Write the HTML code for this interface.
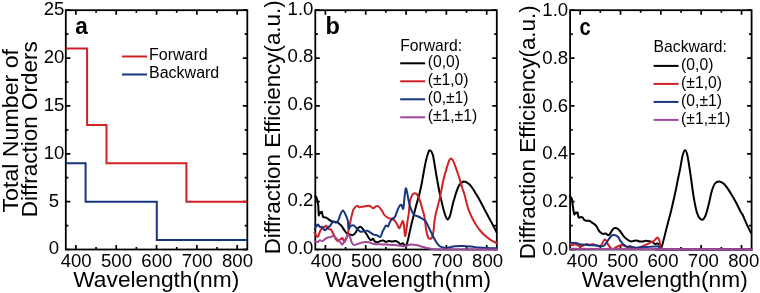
<!DOCTYPE html><html><head><meta charset="utf-8"><style>html,body{margin:0;padding:0;background:#fff;width:760px;height:293px;overflow:hidden}svg{display:block;will-change:transform}text{font-family:"Liberation Sans",sans-serif;fill:#000}</style></head><body>
<svg width="760" height="293" viewBox="0 0 760 293">
<rect x="65.80" y="10.20" width="181.50" height="239.30" fill="none" stroke="#000" stroke-width="1.8"/>
<path d="M75.88 249.50V245.00M75.88 10.20V14.70M96.05 249.50V246.90M96.05 10.20V12.80M116.22 249.50V245.00M116.22 10.20V14.70M136.38 249.50V246.90M136.38 10.20V12.80M156.55 249.50V245.00M156.55 10.20V14.70M176.72 249.50V246.90M176.72 10.20V12.80M196.88 249.50V245.00M196.88 10.20V14.70M217.05 249.50V246.90M217.05 10.20V12.80M237.22 249.50V245.00M237.22 10.20V14.70M65.80 249.50H70.30M247.30 249.50H242.80M65.80 225.57H68.40M247.30 225.57H244.70M65.80 201.64H70.30M247.30 201.64H242.80M65.80 177.71H68.40M247.30 177.71H244.70M65.80 153.78H70.30M247.30 153.78H242.80M65.80 129.85H68.40M247.30 129.85H244.70M65.80 105.92H70.30M247.30 105.92H242.80M65.80 81.99H68.40M247.30 81.99H244.70M65.80 58.06H70.30M247.30 58.06H242.80M65.80 34.13H68.40M247.30 34.13H244.70M65.80 10.20H70.30M247.30 10.20H242.80" stroke="#000" stroke-width="1.7" fill="none"/>
<text x="76.18" y="267.2" font-size="18.6" text-anchor="middle">400</text>
<text x="116.52" y="267.2" font-size="18.6" text-anchor="middle">500</text>
<text x="156.85" y="267.2" font-size="18.6" text-anchor="middle">600</text>
<text x="197.18" y="267.2" font-size="18.6" text-anchor="middle">700</text>
<text x="237.52" y="267.2" font-size="18.6" text-anchor="middle">800</text>
<text x="54.00" y="254.40" font-size="18.6" text-anchor="middle">0</text>
<text x="54.00" y="206.54" font-size="18.6" text-anchor="middle">5</text>
<text x="54.00" y="158.68" font-size="18.6" text-anchor="middle">10</text>
<text x="54.00" y="110.82" font-size="18.6" text-anchor="middle">15</text>
<text x="54.00" y="62.96" font-size="18.6" text-anchor="middle">20</text>
<text x="54.00" y="15.10" font-size="18.6" text-anchor="middle">25</text>
<text x="156.25" y="287.0" font-size="21.8" text-anchor="middle" textLength="166" lengthAdjust="spacingAndGlyphs">Wavelength(nm)</text>
<rect x="315.30" y="10.20" width="181.50" height="239.30" fill="none" stroke="#000" stroke-width="1.8"/>
<path d="M325.38 249.50V245.00M325.38 10.20V14.70M345.55 249.50V246.90M345.55 10.20V12.80M365.72 249.50V245.00M365.72 10.20V14.70M385.88 249.50V246.90M385.88 10.20V12.80M406.05 249.50V245.00M406.05 10.20V14.70M426.22 249.50V246.90M426.22 10.20V12.80M446.38 249.50V245.00M446.38 10.20V14.70M466.55 249.50V246.90M466.55 10.20V12.80M486.72 249.50V245.00M486.72 10.20V14.70M315.30 249.50H319.80M496.80 249.50H492.30M315.30 225.57H317.90M496.80 225.57H494.20M315.30 201.64H319.80M496.80 201.64H492.30M315.30 177.71H317.90M496.80 177.71H494.20M315.30 153.78H319.80M496.80 153.78H492.30M315.30 129.85H317.90M496.80 129.85H494.20M315.30 105.92H319.80M496.80 105.92H492.30M315.30 81.99H317.90M496.80 81.99H494.20M315.30 58.06H319.80M496.80 58.06H492.30M315.30 34.13H317.90M496.80 34.13H494.20M315.30 10.20H319.80M496.80 10.20H492.30" stroke="#000" stroke-width="1.7" fill="none"/>
<text x="326.28" y="267.2" font-size="18.6" text-anchor="middle">400</text>
<text x="366.62" y="267.2" font-size="18.6" text-anchor="middle">500</text>
<text x="406.95" y="267.2" font-size="18.6" text-anchor="middle">600</text>
<text x="447.28" y="267.2" font-size="18.6" text-anchor="middle">700</text>
<text x="487.62" y="267.2" font-size="18.6" text-anchor="middle">800</text>
<text x="300.50" y="253.90" font-size="18.6" text-anchor="middle">0.0</text>
<text x="300.50" y="206.04" font-size="18.6" text-anchor="middle">0.2</text>
<text x="300.50" y="158.18" font-size="18.6" text-anchor="middle">0.4</text>
<text x="300.50" y="110.32" font-size="18.6" text-anchor="middle">0.6</text>
<text x="300.50" y="62.46" font-size="18.6" text-anchor="middle">0.8</text>
<text x="300.50" y="14.60" font-size="18.6" text-anchor="middle">1.0</text>
<text x="408.15" y="287.0" font-size="21.8" text-anchor="middle" textLength="166" lengthAdjust="spacingAndGlyphs">Wavelength(nm)</text>
<rect x="570.10" y="10.20" width="181.50" height="239.30" fill="none" stroke="#000" stroke-width="1.8"/>
<path d="M580.18 249.50V245.00M580.18 10.20V14.70M600.35 249.50V246.90M600.35 10.20V12.80M620.52 249.50V245.00M620.52 10.20V14.70M640.68 249.50V246.90M640.68 10.20V12.80M660.85 249.50V245.00M660.85 10.20V14.70M681.02 249.50V246.90M681.02 10.20V12.80M701.18 249.50V245.00M701.18 10.20V14.70M721.35 249.50V246.90M721.35 10.20V12.80M741.52 249.50V245.00M741.52 10.20V14.70M570.10 249.50H574.60M751.60 249.50H747.10M570.10 225.57H572.70M751.60 225.57H749.00M570.10 201.64H574.60M751.60 201.64H747.10M570.10 177.71H572.70M751.60 177.71H749.00M570.10 153.78H574.60M751.60 153.78H747.10M570.10 129.85H572.70M751.60 129.85H749.00M570.10 105.92H574.60M751.60 105.92H747.10M570.10 81.99H572.70M751.60 81.99H749.00M570.10 58.06H574.60M751.60 58.06H747.10M570.10 34.13H572.70M751.60 34.13H749.00M570.10 10.20H574.60M751.60 10.20H747.10" stroke="#000" stroke-width="1.7" fill="none"/>
<text x="582.38" y="267.2" font-size="18.6" text-anchor="middle">400</text>
<text x="622.72" y="267.2" font-size="18.6" text-anchor="middle">500</text>
<text x="663.05" y="267.2" font-size="18.6" text-anchor="middle">600</text>
<text x="703.38" y="267.2" font-size="18.6" text-anchor="middle">700</text>
<text x="743.72" y="267.2" font-size="18.6" text-anchor="middle">800</text>
<text x="555.30" y="255.10" font-size="18.6" text-anchor="middle">0.0</text>
<text x="555.30" y="207.24" font-size="18.6" text-anchor="middle">0.2</text>
<text x="555.30" y="159.38" font-size="18.6" text-anchor="middle">0.4</text>
<text x="555.30" y="111.52" font-size="18.6" text-anchor="middle">0.6</text>
<text x="555.30" y="63.66" font-size="18.6" text-anchor="middle">0.8</text>
<text x="555.30" y="15.80" font-size="18.6" text-anchor="middle">1.0</text>
<text x="664.75" y="287.0" font-size="21.8" text-anchor="middle" textLength="166" lengthAdjust="spacingAndGlyphs">Wavelength(nm)</text>
<text transform="translate(18.2,212.5) rotate(-90)" font-size="21.8" textLength="163.5" lengthAdjust="spacingAndGlyphs">Total Number of</text>
<text transform="translate(37.4,217.2) rotate(-90)" font-size="21.8" textLength="176" lengthAdjust="spacingAndGlyphs">Diffraction Orders</text>
<text transform="translate(280.4,254.3) rotate(-90)" font-size="21.8" textLength="254" lengthAdjust="spacingAndGlyphs">Diffraction Efficiency(a.u.)</text>
<text transform="translate(535.2,259.3) rotate(-90)" font-size="21.8" textLength="254" lengthAdjust="spacingAndGlyphs">Diffraction Efficiency(a.u.)</text>
<text transform="translate(75.3,34.3) scale(0.94,1)" font-size="24" font-weight="bold">a</text>
<text x="325.6" y="34.3" font-size="23.5" font-weight="bold">b</text>
<text transform="translate(579.4,34.5) scale(0.84,1)" font-size="24" font-weight="bold">c</text>
<path d="M122 56.5H147" stroke="#d02126" stroke-width="2"/><path d="M122 74.5H147" stroke="#16357e" stroke-width="2"/>
<text x="149" y="60.3" font-size="16">Forward</text><text x="149" y="77.8" font-size="16">Backward</text>
<text x="400.20" y="50.70" font-size="15.7">Forward:</text>
<path d="M400.20 63.30h25" stroke="#000" stroke-width="2"/>
<text x="427.70" y="67.10" font-size="15.7">(0,0)</text>
<path d="M400.20 81.30h25" stroke="#d02126" stroke-width="2"/>
<text x="427.70" y="85.10" font-size="15.7">(±1,0)</text>
<path d="M400.20 99.30h25" stroke="#16357e" stroke-width="2"/>
<text x="427.70" y="103.10" font-size="15.7">(0,±1)</text>
<path d="M400.20 117.30h25" stroke="#a0489a" stroke-width="2"/>
<text x="427.70" y="121.10" font-size="15.7">(±1,±1)</text>
<text x="653.60" y="51.50" font-size="15.7">Backward:</text>
<path d="M653.60 65.90h25" stroke="#000" stroke-width="2"/>
<text x="681.10" y="69.70" font-size="15.7">(0,0)</text>
<path d="M653.60 83.90h25" stroke="#d02126" stroke-width="2"/>
<text x="681.10" y="87.70" font-size="15.7">(±1,0)</text>
<path d="M653.60 101.90h25" stroke="#16357e" stroke-width="2"/>
<text x="681.10" y="105.70" font-size="15.7">(0,±1)</text>
<path d="M653.60 119.90h25" stroke="#a0489a" stroke-width="2"/>
<text x="681.10" y="123.70" font-size="15.7">(±1,±1)</text>
<path d="M65.80 48.49L87.10 48.49L87.10 125.06L106.50 125.06L106.50 163.35L186.40 163.35L186.40 201.64L247.30 201.64" stroke="#d02126" stroke-width="2" fill="none"/>
<path d="M65.80 163.35L85.60 163.35L85.60 201.64L156.80 201.64L156.80 239.93L247.30 239.93" stroke="#16357e" stroke-width="2" fill="none"/>
<path d="M315.30 196.00C315.50 196.27 316.13 196.77 316.50 197.60C316.87 198.43 317.20 199.60 317.50 201.00C317.80 202.40 318.13 204.33 318.30 206.00C318.47 207.67 318.42 209.42 318.50 211.00C318.58 212.58 318.70 215.35 318.80 215.50C318.90 215.65 318.82 212.28 319.10 211.90C319.38 211.52 320.03 213.20 320.50 213.20C320.97 213.20 321.50 211.32 321.90 211.90C322.30 212.48 322.45 215.80 322.90 216.70C323.35 217.60 323.97 217.12 324.60 217.30C325.23 217.48 326.02 217.45 326.70 217.80C327.38 218.15 328.02 218.90 328.70 219.40C329.38 219.90 330.00 220.40 330.80 220.80C331.60 221.20 332.48 221.58 333.50 221.80C334.52 222.02 335.98 221.82 336.90 222.10C337.82 222.38 338.20 222.82 339.00 223.50C339.80 224.18 340.80 225.07 341.70 226.20C342.60 227.33 343.48 229.05 344.40 230.30C345.32 231.55 346.28 233.02 347.20 233.70C348.12 234.38 349.00 234.17 349.90 234.40C350.80 234.63 351.70 235.33 352.60 235.10C353.50 234.87 354.38 234.15 355.30 233.00C356.22 231.85 357.18 229.22 358.10 228.20C359.02 227.18 359.92 226.65 360.80 226.90C361.68 227.15 362.40 228.43 363.40 229.70C364.40 230.97 365.88 233.10 366.80 234.50C367.72 235.90 368.22 237.15 368.90 238.10C369.58 239.05 370.22 240.08 370.90 240.20C371.58 240.32 372.32 238.57 373.00 238.80C373.68 239.03 374.20 241.03 375.00 241.60C375.80 242.17 376.88 242.32 377.80 242.20C378.72 242.08 379.60 241.18 380.50 240.90C381.40 240.62 382.28 240.33 383.20 240.50C384.12 240.67 385.08 241.83 386.00 241.90C386.92 241.97 387.68 240.95 388.70 240.90C389.72 240.85 390.97 241.60 392.10 241.60C393.23 241.60 394.47 240.80 395.50 240.90C396.53 241.00 397.50 241.63 398.30 242.20C399.10 242.77 399.57 244.12 400.30 244.30C401.03 244.48 401.90 243.07 402.70 243.30C403.50 243.53 404.48 245.38 405.10 245.70C405.72 246.02 405.97 246.00 406.40 245.20C406.83 244.40 407.18 242.93 407.70 240.90C408.22 238.87 408.87 235.82 409.50 233.00C410.13 230.18 410.83 226.83 411.50 224.00C412.17 221.17 412.78 218.85 413.50 216.00C414.22 213.15 414.82 210.57 415.80 206.90C416.78 203.23 418.40 197.98 419.40 194.00C420.40 190.02 421.17 186.17 421.80 183.00C422.43 179.83 422.55 178.52 423.20 175.00C423.85 171.48 424.85 165.65 425.70 161.90C426.55 158.15 427.57 154.43 428.30 152.50C429.03 150.57 429.37 149.98 430.10 150.30C430.83 150.62 431.95 152.03 432.70 154.40C433.45 156.77 433.97 160.90 434.60 164.50C435.23 168.10 435.67 171.32 436.50 176.00C437.33 180.68 438.45 187.10 439.60 192.60C440.75 198.10 442.42 205.10 443.40 209.00C444.38 212.90 444.82 214.25 445.50 216.00C446.18 217.75 446.83 219.33 447.50 219.50C448.17 219.67 448.92 218.25 449.50 217.00C450.08 215.75 450.33 214.58 451.00 212.00C451.67 209.42 452.23 205.78 453.50 201.50C454.77 197.22 456.88 189.63 458.60 186.30C460.32 182.97 462.08 181.90 463.80 181.50C465.52 181.10 467.53 182.90 468.90 183.90C470.27 184.90 471.02 186.17 472.00 187.50C472.98 188.83 473.83 190.35 474.80 191.90C475.77 193.45 476.82 195.12 477.80 196.80C478.78 198.48 479.72 200.17 480.70 202.00C481.68 203.83 482.70 205.88 483.70 207.80C484.70 209.72 485.72 211.63 486.70 213.50C487.68 215.37 488.62 217.17 489.60 219.00C490.58 220.83 491.40 222.25 492.60 224.50C493.80 226.75 496.10 231.17 496.80 232.50" stroke="#000000" stroke-width="2.0" fill="none" stroke-linejoin="round" stroke-linecap="round"/>
<path d="M314.40 232.70C314.73 233.15 315.78 234.77 316.40 235.40C317.02 236.03 317.50 237.15 318.10 236.50C318.70 235.85 319.25 233.10 320.00 231.50C320.75 229.90 321.88 227.55 322.60 226.90C323.32 226.25 323.73 227.83 324.30 227.60C324.87 227.37 325.43 225.50 326.00 225.50C326.57 225.50 327.13 226.97 327.70 227.60C328.27 228.23 328.83 228.97 329.40 229.30C329.97 229.63 330.53 228.98 331.10 229.60C331.67 230.22 332.23 231.93 332.80 233.00C333.37 234.07 334.05 235.03 334.50 236.00C334.95 236.97 334.98 237.98 335.50 238.80C336.02 239.62 336.80 240.78 337.60 240.90C338.40 241.02 339.50 239.97 340.30 239.50C341.10 239.03 341.72 237.65 342.40 238.10C343.08 238.55 343.72 242.20 344.40 242.20C345.08 242.20 345.93 239.47 346.50 238.10C347.07 236.73 347.38 235.68 347.80 234.00C348.22 232.32 348.55 230.17 349.00 228.00C349.45 225.83 350.08 222.92 350.50 221.00C350.92 219.08 351.03 218.37 351.50 216.50C351.97 214.63 352.67 211.37 353.30 209.80C353.93 208.23 354.62 207.78 355.30 207.10C355.98 206.42 356.72 205.68 357.40 205.70C358.08 205.72 358.38 207.07 359.40 207.20C360.42 207.33 361.77 206.72 363.50 206.50C365.23 206.28 368.22 205.62 369.80 205.90C371.38 206.18 371.73 208.20 373.00 208.20C374.27 208.20 375.93 205.55 377.40 205.90C378.87 206.25 380.70 208.87 381.80 210.30C382.90 211.73 383.05 213.30 384.00 214.50C384.95 215.70 386.32 216.77 387.50 217.50C388.68 218.23 389.92 218.42 391.10 218.90C392.28 219.38 393.57 219.45 394.60 220.40C395.63 221.35 396.48 223.30 397.30 224.60C398.12 225.90 398.62 228.78 399.50 228.20C400.38 227.62 401.87 221.63 402.60 221.10C403.33 220.57 403.45 222.52 403.90 225.00C404.35 227.48 404.70 236.65 405.30 236.00C405.90 235.35 406.92 224.93 407.50 221.10C408.08 217.27 408.40 216.37 408.80 213.00C409.20 209.63 409.32 203.90 409.90 200.90C410.48 197.90 411.52 196.28 412.30 195.00C413.08 193.72 413.82 193.32 414.60 193.20C415.38 193.08 416.10 193.02 417.00 194.30C417.90 195.58 419.10 198.40 420.00 200.90C420.90 203.40 421.65 206.62 422.40 209.30C423.15 211.98 423.87 213.55 424.50 217.00C425.13 220.45 425.58 226.58 426.20 230.00C426.82 233.42 427.52 236.03 428.20 237.50C428.88 238.97 429.67 238.80 430.30 238.80C430.93 238.80 431.47 238.80 432.00 237.50C432.53 236.20 432.97 234.48 433.50 231.00C434.03 227.52 434.18 221.95 435.20 216.60C436.22 211.25 438.23 205.00 439.60 198.90C440.97 192.80 442.35 184.68 443.40 180.00C444.45 175.32 444.95 174.02 445.90 170.80C446.85 167.58 448.25 162.77 449.10 160.70C449.95 158.63 450.27 158.30 451.00 158.40C451.73 158.50 452.45 159.03 453.50 161.30C454.55 163.57 456.25 168.95 457.30 172.00C458.35 175.05 458.97 176.93 459.80 179.60C460.63 182.27 461.50 185.43 462.30 188.00C463.10 190.57 463.68 191.75 464.60 195.00C465.52 198.25 466.82 204.28 467.80 207.50C468.78 210.72 469.55 212.13 470.50 214.30C471.45 216.47 472.50 218.63 473.50 220.50C474.50 222.37 475.33 223.75 476.50 225.50C477.67 227.25 479.08 229.33 480.50 231.00C481.92 232.67 483.33 234.03 485.00 235.50C486.67 236.97 488.47 238.48 490.50 239.80C492.53 241.12 496.08 242.80 497.20 243.40" stroke="#d02126" stroke-width="2.0" fill="none" stroke-linejoin="round" stroke-linecap="round"/>
<path d="M314.70 228.90C314.98 228.45 315.83 226.93 316.40 226.20C316.97 225.47 317.53 224.38 318.10 224.50C318.67 224.62 319.23 226.50 319.80 226.90C320.37 227.30 320.93 226.57 321.50 226.90C322.07 227.23 322.62 228.33 323.20 228.90C323.78 229.47 324.42 230.30 325.00 230.30C325.58 230.30 326.08 229.47 326.70 228.90C327.32 228.33 328.08 227.47 328.70 226.90C329.32 226.33 329.83 226.18 330.40 225.50C330.97 224.82 331.47 223.48 332.10 222.80C332.73 222.12 333.57 221.40 334.20 221.40C334.83 221.40 335.33 222.80 335.90 222.80C336.47 222.80 337.03 222.20 337.60 221.40C338.17 220.60 338.85 219.13 339.30 218.00C339.75 216.87 339.68 215.85 340.30 214.60C340.92 213.35 342.08 210.38 343.00 210.50C343.92 210.62 345.00 213.58 345.80 215.30C346.60 217.02 347.35 218.60 347.80 220.80C348.25 223.00 348.05 227.63 348.50 228.50C348.95 229.37 349.93 226.50 350.50 226.00C351.07 225.50 351.32 225.58 351.90 225.50C352.48 225.42 353.08 224.87 354.00 225.50C354.92 226.13 356.27 228.27 357.40 229.30C358.53 230.33 359.80 231.35 360.80 231.70C361.80 232.05 362.28 231.57 363.40 231.40C364.52 231.23 366.37 230.53 367.50 230.70C368.63 230.87 369.17 231.75 370.20 232.40C371.23 233.05 372.55 234.10 373.70 234.60C374.85 235.10 375.97 235.03 377.10 235.40C378.23 235.77 379.60 237.42 380.50 236.80C381.40 236.18 381.92 233.00 382.50 231.70C383.08 230.40 383.45 230.03 384.00 229.00C384.55 227.97 385.13 225.93 385.80 225.50C386.47 225.07 387.38 226.83 388.00 226.40C388.62 225.97 388.83 224.20 389.50 222.90C390.17 221.60 391.30 219.38 392.00 218.60C392.70 217.82 393.12 218.67 393.70 218.20C394.28 217.73 394.95 216.92 395.50 215.80C396.05 214.68 396.30 213.18 397.00 211.50C397.70 209.82 398.95 206.77 399.70 205.70C400.45 204.63 400.90 204.60 401.50 205.10C402.10 205.60 402.80 210.00 403.30 208.70C403.80 207.40 404.10 200.65 404.50 197.30C404.90 193.95 405.30 189.58 405.70 188.60C406.10 187.62 406.40 189.35 406.90 191.40C407.40 193.45 408.00 197.92 408.70 200.90C409.40 203.88 410.22 207.00 411.10 209.30C411.98 211.60 412.82 213.50 414.00 214.70C415.18 215.90 416.88 215.87 418.20 216.50C419.52 217.13 420.65 217.70 421.90 218.50C423.15 219.30 424.43 219.57 425.70 221.30C426.97 223.03 428.20 226.25 429.50 228.90C430.80 231.55 432.35 234.98 433.50 237.20C434.65 239.42 435.45 240.78 436.40 242.20C437.35 243.62 438.17 244.83 439.20 245.70C440.23 246.57 441.47 247.03 442.60 247.40C443.73 247.77 444.87 247.90 446.00 247.90C447.13 247.90 447.90 247.67 449.40 247.40C450.90 247.13 452.85 246.55 455.00 246.30C457.15 246.05 459.60 245.85 462.30 245.90C465.00 245.95 468.45 246.32 471.20 246.60C473.95 246.88 476.28 247.35 478.80 247.60C481.32 247.85 483.27 247.98 486.30 248.10C489.33 248.22 495.22 248.27 497.00 248.30" stroke="#16357e" stroke-width="2.0" fill="none" stroke-linejoin="round" stroke-linecap="round"/>
<path d="M314.70 241.60C315.22 241.65 316.95 242.13 317.80 241.90C318.65 241.67 319.00 240.37 319.80 240.20C320.60 240.03 321.68 241.13 322.60 240.90C323.52 240.67 324.40 239.37 325.30 238.80C326.20 238.23 327.08 237.78 328.00 237.50C328.92 237.22 330.00 237.33 330.80 237.10C331.60 236.87 332.02 236.03 332.80 236.10C333.58 236.17 334.58 236.82 335.50 237.50C336.42 238.18 337.50 239.42 338.30 240.20C339.10 240.98 339.62 241.47 340.30 242.20C340.98 242.93 341.72 244.82 342.40 244.60C343.08 244.38 343.72 242.08 344.40 240.90C345.08 239.72 345.82 238.53 346.50 237.50C347.18 236.47 347.88 234.70 348.50 234.70C349.12 234.70 349.63 236.13 350.20 237.50C350.77 238.87 351.27 241.65 351.90 242.90C352.53 244.15 353.08 244.82 354.00 245.00C354.92 245.18 356.27 244.35 357.40 244.00C358.53 243.65 359.80 243.20 360.80 242.90C361.80 242.60 362.40 242.37 363.40 242.20C364.40 242.03 365.67 241.83 366.80 241.90C367.93 241.97 369.05 242.25 370.20 242.60C371.35 242.95 371.98 243.72 373.70 244.00C375.42 244.28 378.23 244.20 380.50 244.30C382.77 244.40 385.02 244.48 387.30 244.60C389.58 244.72 391.92 244.82 394.20 245.00C396.48 245.18 399.20 245.52 401.00 245.70C402.80 245.88 403.42 246.28 405.00 246.10C406.58 245.92 408.45 244.73 410.50 244.60C412.55 244.47 415.37 244.95 417.30 245.30C419.23 245.65 420.50 246.25 422.10 246.70C423.70 247.15 425.20 247.63 426.90 248.00C428.60 248.37 430.12 248.67 432.30 248.90C434.48 249.13 429.22 249.32 440.00 249.40C450.78 249.48 487.50 249.40 497.00 249.40" stroke="#a0489a" stroke-width="2.0" fill="none" stroke-linejoin="round" stroke-linecap="round"/>
<path d="M569.80 196.20C570.02 196.43 570.72 197.02 571.10 197.60C571.48 198.18 571.82 198.30 572.10 199.70C572.38 201.10 572.50 203.75 572.80 206.00C573.10 208.25 573.62 211.77 573.90 213.20C574.18 214.63 574.22 214.70 574.50 214.60C574.78 214.50 575.20 212.83 575.60 212.60C576.00 212.37 576.57 213.20 576.90 213.20C577.23 213.20 577.32 211.92 577.60 212.60C577.88 213.28 578.15 216.52 578.60 217.30C579.05 218.08 579.67 217.30 580.30 217.30C580.93 217.30 581.72 216.83 582.40 217.30C583.08 217.77 583.72 219.52 584.40 220.10C585.08 220.68 585.70 220.68 586.50 220.80C587.30 220.92 588.40 220.58 589.20 220.80C590.00 221.02 590.83 221.78 591.30 222.10C591.77 222.42 591.43 222.32 592.00 222.70C592.57 223.08 593.92 223.77 594.70 224.40C595.48 225.03 596.02 225.47 596.70 226.50C597.38 227.53 598.00 229.47 598.80 230.60C599.60 231.73 600.70 232.73 601.50 233.30C602.30 233.87 602.93 233.98 603.60 234.00C604.27 234.02 604.67 233.20 605.50 233.40C606.33 233.60 607.68 235.40 608.60 235.20C609.52 235.00 610.32 233.15 611.00 232.20C611.68 231.25 612.03 230.18 612.70 229.50C613.37 228.82 614.20 228.23 615.00 228.10C615.80 227.97 616.75 228.30 617.50 228.70C618.25 229.10 618.83 229.77 619.50 230.50C620.17 231.23 620.65 231.95 621.50 233.10C622.35 234.25 623.68 236.38 624.60 237.40C625.52 238.42 626.20 238.63 627.00 239.20C627.80 239.77 628.67 240.42 629.40 240.80C630.13 241.18 630.60 241.50 631.40 241.50C632.20 241.50 633.28 240.97 634.20 240.80C635.12 240.63 636.00 240.38 636.90 240.50C637.80 240.62 638.68 241.33 639.60 241.50C640.52 241.67 641.37 241.62 642.40 241.50C643.43 241.38 644.67 240.85 645.80 240.80C646.93 240.75 648.07 240.97 649.20 241.20C650.33 241.43 651.68 241.75 652.60 242.20C653.52 242.65 653.90 243.67 654.70 243.90C655.50 244.13 656.60 243.50 657.40 243.60C658.20 243.70 658.98 243.93 659.50 244.50C660.02 245.07 660.15 246.53 660.50 247.00C660.85 247.47 660.85 249.38 661.60 247.30C662.35 245.22 663.87 238.88 665.00 234.50C666.13 230.12 667.53 224.33 668.40 221.00C669.27 217.67 669.40 217.70 670.20 214.50C671.00 211.30 672.28 205.80 673.20 201.80C674.12 197.80 674.90 194.30 675.70 190.50C676.50 186.70 677.23 182.75 678.00 179.00C678.77 175.25 679.55 171.83 680.30 168.00C681.05 164.17 681.72 158.95 682.50 156.00C683.28 153.05 684.20 150.47 685.00 150.30C685.80 150.13 686.55 152.05 687.30 155.00C688.05 157.95 688.88 164.17 689.50 168.00C690.12 171.83 690.48 174.33 691.00 178.00C691.52 181.67 692.02 186.03 692.60 190.00C693.18 193.97 693.85 198.30 694.50 201.80C695.15 205.30 695.83 208.55 696.50 211.00C697.17 213.45 697.83 215.17 698.50 216.50C699.17 217.83 699.85 218.47 700.50 219.00C701.15 219.53 701.78 219.87 702.40 219.70C703.02 219.53 703.68 218.67 704.20 218.00C704.72 217.33 705.03 216.87 705.50 215.70C705.97 214.53 706.33 213.45 707.00 211.00C707.67 208.55 708.70 204.33 709.50 201.00C710.30 197.67 710.88 193.92 711.80 191.00C712.72 188.08 713.75 185.08 715.00 183.50C716.25 181.92 717.73 181.37 719.30 181.50C720.87 181.63 722.50 182.35 724.40 184.30C726.30 186.25 728.80 190.25 730.70 193.20C732.60 196.15 734.12 198.85 735.80 202.00C737.48 205.15 739.65 209.93 740.80 212.10C741.95 214.27 741.65 212.83 742.70 215.00C743.75 217.17 745.73 222.15 747.10 225.10C748.47 228.05 750.27 231.43 750.90 232.70" stroke="#000000" stroke-width="2.0" fill="none" stroke-linejoin="round" stroke-linecap="round"/>
<path d="M570.10 244.20C570.55 244.38 572.00 245.30 572.80 245.30C573.60 245.30 573.98 244.15 574.90 244.20C575.82 244.25 577.28 245.20 578.30 245.60C579.32 246.00 579.98 246.72 581.00 246.60C582.02 246.48 583.37 245.35 584.40 244.90C585.43 244.45 586.28 243.90 587.20 243.90C588.12 243.90 588.88 244.85 589.90 244.90C590.92 244.95 592.17 244.08 593.30 244.20C594.43 244.32 595.45 245.37 596.70 245.60C597.95 245.83 599.77 246.17 600.80 245.60C601.83 245.03 602.27 243.22 602.90 242.20C603.53 241.18 604.03 239.73 604.60 239.50C605.17 239.27 605.68 239.90 606.30 240.80C606.92 241.70 607.50 243.65 608.30 244.90C609.10 246.15 610.18 247.67 611.10 248.30C612.02 248.93 612.92 248.92 613.80 248.70C614.68 248.48 615.17 247.63 616.40 247.00C617.63 246.37 619.72 245.02 621.20 244.90C622.68 244.78 623.82 245.83 625.30 246.30C626.78 246.77 628.17 247.47 630.10 247.70C632.03 247.93 634.85 247.93 636.90 247.70C638.95 247.47 640.68 246.88 642.40 246.30C644.12 245.72 645.72 244.88 647.20 244.20C648.68 243.52 650.17 242.77 651.30 242.20C652.43 241.63 652.98 241.60 654.00 240.80C655.02 240.00 656.50 237.40 657.40 237.40C658.30 237.40 658.83 239.08 659.40 240.80C659.97 242.52 660.33 246.27 660.80 247.70C661.27 249.13 647.00 249.12 662.20 249.40C677.40 249.68 737.03 249.40 752.00 249.40" stroke="#d02126" stroke-width="2.0" fill="none" stroke-linejoin="round" stroke-linecap="round"/>
<path d="M570.10 242.20C570.55 242.32 571.78 242.78 572.80 242.90C573.82 243.02 575.05 242.68 576.20 242.90C577.35 243.12 578.55 243.92 579.70 244.20C580.85 244.48 581.97 244.48 583.10 244.60C584.23 244.72 585.37 244.78 586.50 244.90C587.63 245.02 588.77 245.23 589.90 245.30C591.03 245.37 592.17 245.25 593.30 245.30C594.43 245.35 595.55 245.43 596.70 245.60C597.85 245.77 599.05 246.23 600.20 246.30C601.35 246.37 602.58 246.57 603.60 246.00C604.62 245.43 605.40 244.10 606.30 242.90C607.20 241.70 608.08 240.05 609.00 238.80C609.92 237.55 611.00 236.05 611.80 235.40C612.60 234.75 613.03 234.87 613.80 234.90C614.57 234.93 615.62 235.18 616.40 235.60C617.18 236.02 617.93 236.65 618.50 237.40C619.07 238.15 619.35 239.33 619.80 240.10C620.25 240.87 620.63 241.32 621.20 242.00C621.77 242.68 622.28 243.43 623.20 244.20C624.12 244.97 625.55 246.25 626.70 246.60C627.85 246.95 628.97 246.18 630.10 246.30C631.23 246.42 632.37 247.02 633.50 247.30C634.63 247.58 635.77 248.00 636.90 248.00C638.03 248.00 638.58 247.47 640.30 247.30C642.02 247.13 644.92 247.12 647.20 247.00C649.48 246.88 652.18 246.72 654.00 246.60C655.82 246.48 657.20 246.12 658.10 246.30C659.00 246.48 658.95 247.25 659.40 247.70C659.85 248.15 660.37 248.72 660.80 249.00C661.23 249.28 646.80 249.33 662.00 249.40C677.20 249.47 737.00 249.40 752.00 249.40" stroke="#16357e" stroke-width="2.0" fill="none" stroke-linejoin="round" stroke-linecap="round"/>
<path d="M570.10 248.70C575.08 248.73 585.02 248.80 600.00 248.90C614.98 249.00 634.67 249.22 660.00 249.30C685.33 249.38 736.67 249.38 752.00 249.40" stroke="#a0489a" stroke-width="2.0" fill="none" stroke-linejoin="round" stroke-linecap="round"/>
</svg></body></html>
